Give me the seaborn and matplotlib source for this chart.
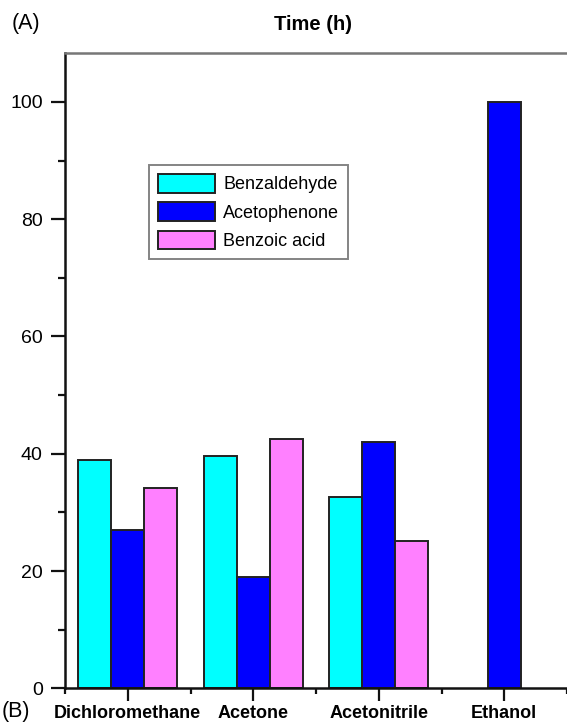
import matplotlib
matplotlib.use("Agg")
import matplotlib.pyplot as plt
import seaborn as sns
import pandas as pd
from matplotlib.patches import Patch
from matplotlib.ticker import MultipleLocator, FixedLocator

solvents = ["Dichloromethane", "Acetone", "Acetonitrile", "Ethanol"]
products = ["Benzaldehyde", "Acetophenone", "Benzoic acid"]
benzaldehyde = [38.9, 39.7, 32.6, None]
acetophenone = [27.0, 19.0, 42.0, 100.0]
benzoic_acid = [34.1, 42.6, 25.2, None]
colors = ["#00FFFF", "#0000FF", "#FF80FF"]

rows = []
for prod, vals in zip(products, [benzaldehyde, acetophenone, benzoic_acid]):
    for s, v in zip(solvents, vals):
        if v is not None:
            rows.append({"Solvent": s, "Product": prod, "Time": v})
df = pd.DataFrame(rows)

sns.set_theme(style="white")
plt.rcParams["font.family"] = ["Liberation Sans", "DejaVu Sans"]
plt.rcParams["text.color"] = "black"
plt.rcParams["xtick.color"] = "black"
plt.rcParams["ytick.color"] = "black"

fig = plt.figure(figsize=(5.67, 7.23), dpi=100)
ax = fig.add_axes([65/567, 1-688.3/723, 1-65/567, (688.3-53.3)/723])

sns.barplot(data=df, x="Solvent", y="Time", hue="Product", order=solvents,
            hue_order=products, palette=colors, saturation=1, width=0.79, dodge=True,
            edgecolor="#222222", linewidth=1.4, errorbar=None, ax=ax,
            legend=False)

ax.set_xlim(-0.5, 3.5)
ax.set_ylim(0, 108.3)
ax.set_xlabel("")
ax.set_ylabel("")

ax.yaxis.set_major_locator(MultipleLocator(20))
ax.yaxis.set_minor_locator(MultipleLocator(10))
ax.xaxis.set_minor_locator(FixedLocator([-0.5, 0.5, 1.5, 2.5, 3.5]))

ax.tick_params(axis="y", which="major", direction="out", length=10, width=1.6,
               color="#111111", labelcolor="black", labelsize=14, pad=6, left=True)
ax.tick_params(axis="y", which="minor", direction="out", length=5, width=1.6,
               color="#111111", left=True)
ax.tick_params(axis="x", which="major", direction="out", length=9, width=1.6,
               color="#111111", labelcolor="black", labelsize=13, pad=3, bottom=True)
ax.tick_params(axis="x", which="minor", direction="out", length=4, width=1.6,
               color="#111111", bottom=True)
for lbl in ax.get_xticklabels():
    lbl.set_fontweight("bold")

for side in ["left", "bottom"]:
    ax.spines[side].set_color("#111111")
    ax.spines[side].set_linewidth(1.8)
ax.spines["top"].set_color("#777777")
ax.spines["top"].set_linewidth(1.8)
ax.spines["right"].set_visible(False)

handles = [Patch(facecolor=c, edgecolor="#222222", linewidth=1.4, label=p)
           for c, p in zip(colors, products)]
leg = fig.legend(handles=handles, loc="upper left",
                 bbox_to_anchor=(149/567, 1-165/723), bbox_transform=fig.transFigure,
                 borderaxespad=0, fontsize=13, handlelength=3.15, handleheight=1.2,
                 labelspacing=0.5, handletextpad=0.45, borderpad=0.5,
                 fancybox=False, frameon=True, labelcolor="black")
leg.get_frame().set_edgecolor("#666666")
leg.get_frame().set_linewidth(1.4)

fig.text(313/567, 1-24/723, "Time (h)", ha="center", va="center",
         fontsize=14.5, fontweight="bold", color="black")
fig.text(12/567, 1-24/723, "(A)", ha="left", va="center", fontsize=15.5, color="black")
fig.text(2/567, 1-711/723, "(B)", ha="left", va="center", fontsize=15.5, color="black")

fig.savefig("out.png", dpi=100)
